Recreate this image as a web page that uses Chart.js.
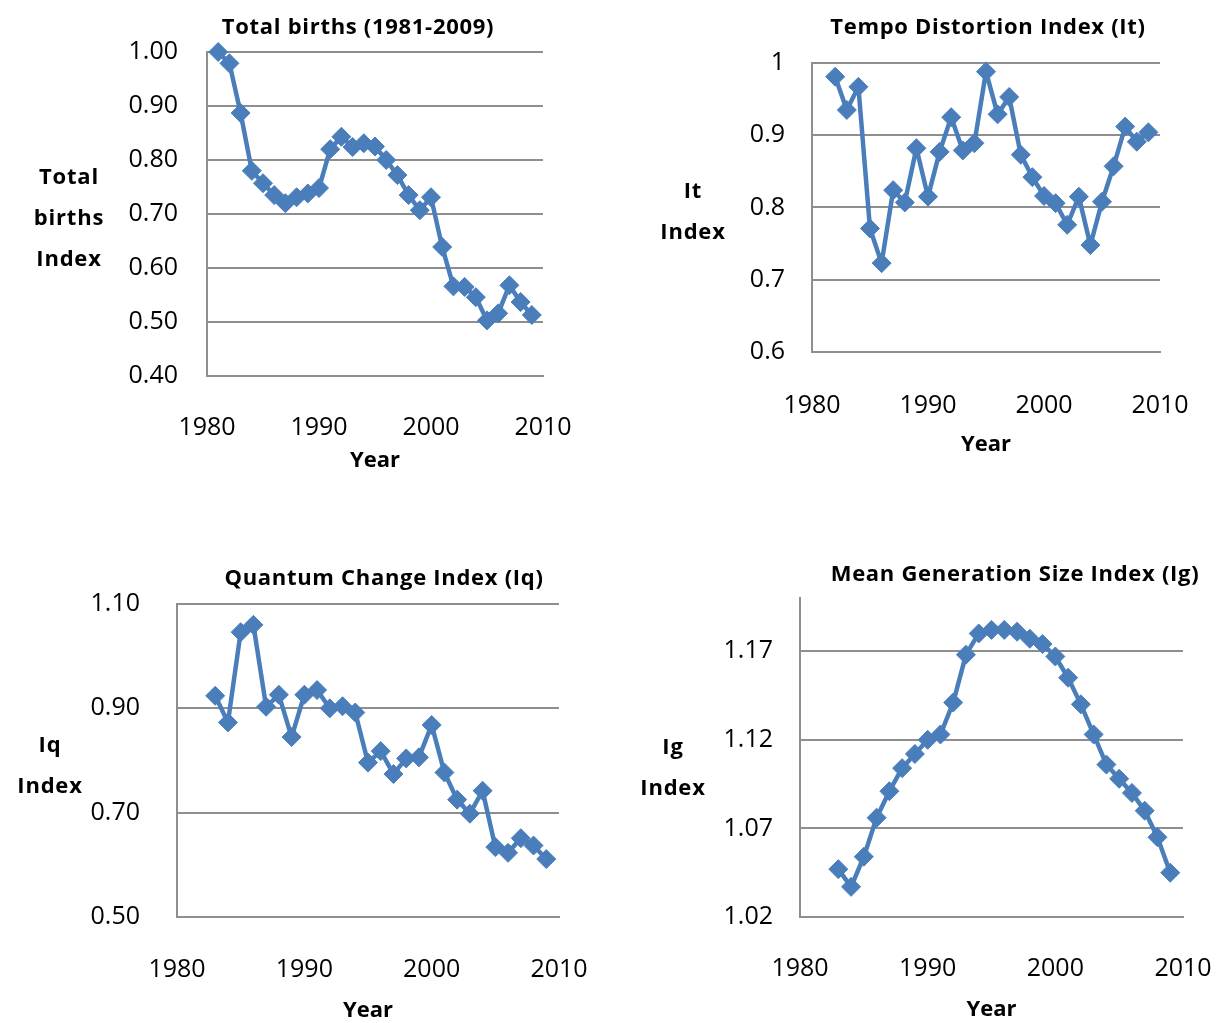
<!DOCTYPE html>
<html>
<head>
<meta charset="utf-8">
<script src="https://cdn.jsdelivr.net/npm/chart.js@4.4.1/dist/chart.umd.min.js"></script>
<style>
  body { margin: 0; background: #fff; font-family: "Open Sans", sans-serif; }
  #page { position: relative; width: 1221px; height: 1023px; overflow: hidden; }
  canvas { position: absolute; }
  .ttl { position: absolute; transform: translate(-50%, -50%); font-weight: bold; font-size: 22px; letter-spacing: 0.7px; white-space: nowrap; color: #000; }
  .ytl { position: absolute; transform: translate(-50%, -50%); font-weight: bold; font-size: 22px; letter-spacing: 0.8px; line-height: 41px; text-align: center; color: #000; }
</style>
</head>
<body>
<div id="page">
  <canvas id="c1" width="620" height="490" style="left:0;top:0"></canvas>
  <canvas id="c2" width="601" height="490" style="left:620px;top:0"></canvas>
  <canvas id="c3" width="620" height="503" style="left:0;top:520px"></canvas>
  <canvas id="c4" width="601" height="503" style="left:620px;top:520px"></canvas>

  <div class="ttl" style="left:358px;top:25px">Total births (1981-2009)</div>
  <div class="ttl" style="left:988px;top:25px">Tempo Distortion Index (It)</div>
  <div class="ttl" style="left:384px;top:576px">Quantum Change Index (Iq)</div>
  <div class="ttl" style="left:1015px;top:572px">Mean Generation Size Index (Ig)</div>

  <div class="ytl" style="left:69px;top:216px">Total<br>births<br>Index</div>
  <div class="ytl" style="left:693px;top:210px">It<br>Index</div>
  <div class="ytl" style="left:50px;top:764px">Iq<br>Index</div>
  <div class="ytl" style="left:673px;top:766px">Ig<br>Index</div>
</div>
<script>
// years
const years = [1981, 1982, 1983, 1984, 1985, 1986, 1987, 1988, 1989, 1990,
  1991, 1992, 1993, 1994, 1995, 1996, 1997, 1998, 1999, 2000,
  2001, 2002, 2003, 2004, 2005, 2006, 2007, 2008, 2009];
const xTicks = [1980, 1990, 2000, 2010];

// Total births index (1981-2009)
const birthValues = [1.000, 0.979, 0.887, 0.780, 0.757, 0.735, 0.720, 0.731, 0.738, 0.748,
  0.820, 0.843, 0.824, 0.831, 0.825, 0.800, 0.772, 0.735, 0.707, 0.731,
  0.639, 0.566, 0.565, 0.546, 0.503, 0.516, 0.568, 0.537, 0.513];
const birthTicks = [0.4, 0.5, 0.6, 0.7, 0.8, 0.9, 1.0];

// Tempo distortion index (1982-2009)
const itValues = [0.981, 0.935, 0.967, 0.771, 0.723, 0.824, 0.807, 0.882, 0.815,
  0.877, 0.925, 0.879, 0.889, 0.988, 0.929, 0.953, 0.873, 0.842, 0.816,
  0.806, 0.776, 0.815, 0.748, 0.808, 0.857, 0.912, 0.891, 0.904];
const itTicks = [0.6, 0.7, 0.8, 0.9, 1.0];

// Quantum change index (1983-2009)
const iqValues = [0.924, 0.873, 1.046, 1.060, 0.903, 0.926, 0.845, 0.926,
  0.935, 0.900, 0.904, 0.892, 0.796, 0.818, 0.774, 0.804, 0.806, 0.868,
  0.777, 0.725, 0.698, 0.742, 0.634, 0.623, 0.651, 0.637, 0.611];
const iqTicks = [0.5, 0.7, 0.9, 1.1];

// Mean generation size index (1983-2009)
const igValues = [1.047, 1.037, 1.054, 1.076, 1.091, 1.104, 1.112, 1.120,
  1.123, 1.141, 1.168, 1.180, 1.182, 1.182, 1.181, 1.177, 1.174, 1.167,
  1.155, 1.140, 1.123, 1.106, 1.098, 1.090, 1.080, 1.065, 1.045];
const igTicks = [1.02, 1.07, 1.12, 1.17];

const blue = "#4a7ebb";
const gridColor = "#8e8e8e";
const fontFamily = "'Open Sans', sans-serif";

function makeChart(id, p) {
  const pts = p.values.map((v, i) => ({ x: p.years[i], y: v }));
  return new Chart(document.getElementById(id), {
    type: "line",
    data: {
      datasets: [{
        data: pts,
        borderColor: blue,
        backgroundColor: blue,
        borderWidth: 4.5,
        pointStyle: "rectRot",
        pointRadius: 9.5,
        pointBorderWidth: 1,
        pointBackgroundColor: blue,
        pointBorderColor: blue,
        tension: 0,
        clip: false
      }]
    },
    options: {
      responsive: false,
      animation: false,
      layout: { padding: p.pad },
      plugins: { legend: { display: false }, tooltip: { enabled: false } },
      scales: {
        x: {
          type: "linear",
          min: 1980, max: 2010,
          afterBuildTicks: s => { s.ticks = xTicks.map(v => ({ value: v })); },
          // keep the plot edges where the padding puts them
          afterFit: s => { s.height = p.xH; s.paddingLeft = 0; s.paddingRight = 0; },
          grid: { display: false, drawTicks: false },
          border: { display: true, color: gridColor, width: 2 },
          ticks: { padding: p.xPad, color: "#000", font: { family: fontFamily, size: 25 }, callback: v => String(v), maxRotation: 0 },
          title: { display: true, text: "Year", color: "#000", padding: 0, font: { family: fontFamily, size: 22, weight: "bold", lineHeight: 1 } }
        },
        y: {
          min: p.min, max: p.max,
          afterBuildTicks: s => { s.ticks = p.ticks.map(v => ({ value: v })); },
          afterFit: s => { s.width = p.yW; s.paddingTop = 0; s.paddingBottom = 0; },
          grid: { color: gridColor, lineWidth: 2, drawTicks: false },
          border: { display: true, color: gridColor, width: 2 },
          ticks: { padding: p.yPad, color: "#000", font: { family: fontFamily, size: 25 }, callback: p.fmt }
        }
      }
    }
  });
}

makeChart("c1", {
  years: years, values: birthValues, ticks: birthTicks, min: 0.4, max: 1.0,
  pad: { left: 0, top: 52, right: 77, bottom: 18 }, yW: 207, yPad: 29, xH: 96, xPad: 37,
  fmt: v => v.toFixed(2)
});
makeChart("c2", {
  years: years.slice(1), values: itValues, ticks: itTicks, min: 0.6, max: 1.0,
  pad: { left: 0, top: 63, right: 61, bottom: 34 }, yW: 192, yPad: 27, xH: 104, xPad: 39,
  fmt: v => String(+v.toFixed(1))
});
makeChart("c3", {
  years: years.slice(2), values: iqValues, ticks: iqTicks, min: 0.5, max: 1.1,
  pad: { left: 0, top: 84, right: 61, bottom: 1 }, yW: 177, yPad: 37, xH: 105, xPad: 38,
  fmt: v => v.toFixed(2)
});
makeChart("c4", {
  years: years.slice(2), values: igValues, ticks: igTicks, min: 1.02, max: 1.2,
  pad: { left: 0, top: 78, right: 38, bottom: 2 }, yW: 180, yPad: 27, xH: 104, xPad: 37,
  fmt: v => v.toFixed(2)
});
</script>
</body>
</html>
